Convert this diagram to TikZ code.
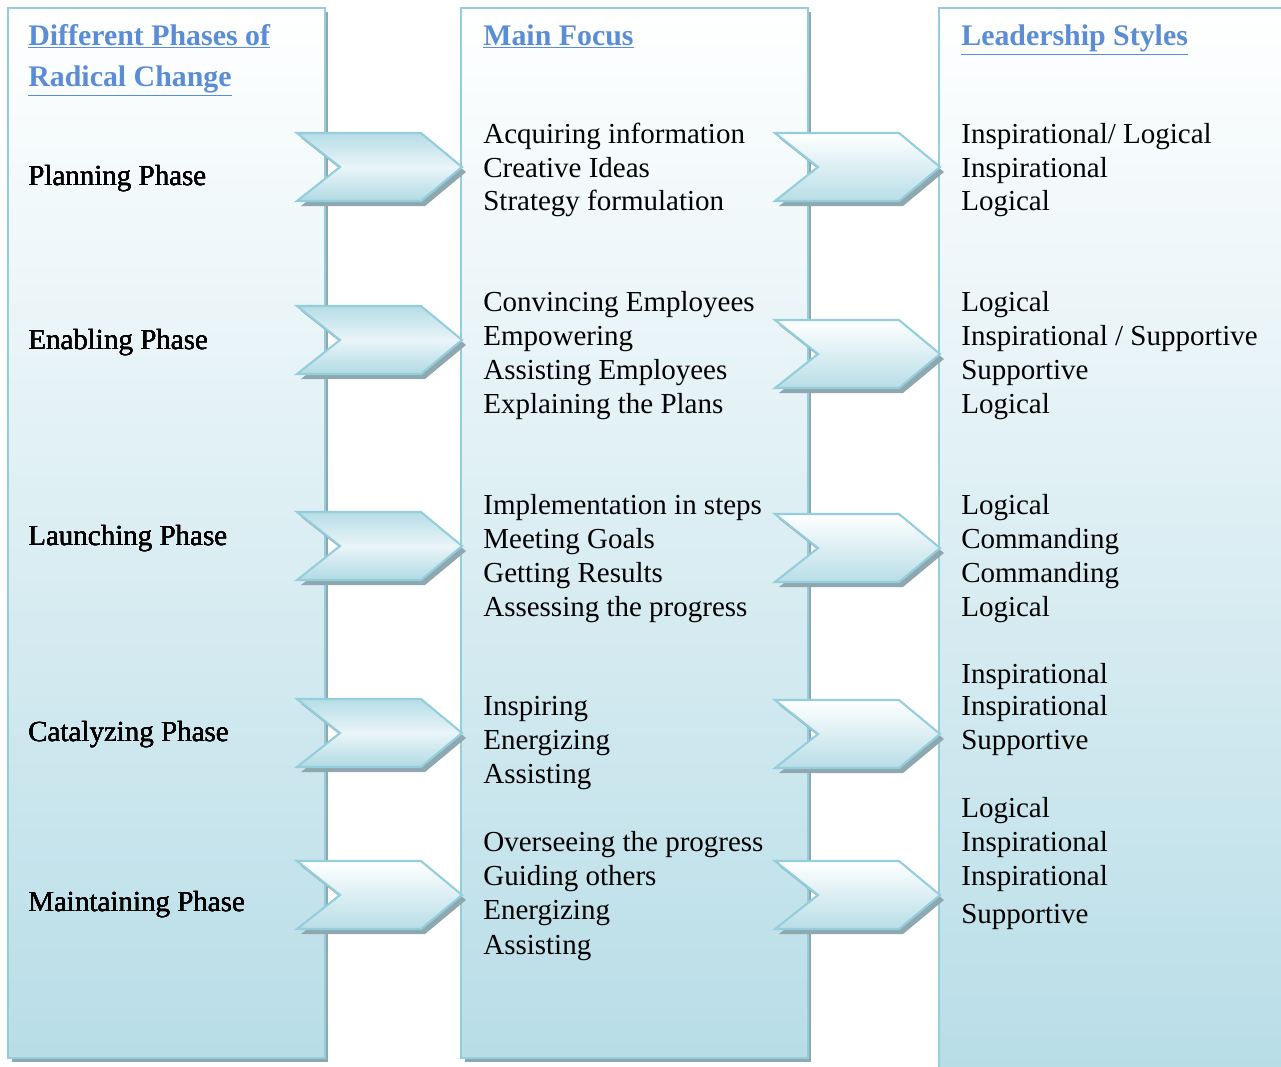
\documentclass[tikz,border=0pt]{standalone}
\usepackage{fontspec}
\setmainfont{Liberation Serif}
\definecolor{colline}{HTML}{94CEDC}
\definecolor{colfill}{HTML}{B8DDE7}
\definecolor{colshade}{HTML}{8FA8B0}
\definecolor{colhead}{HTML}{5A8DD5}
\tikzset{
  column/.style = {draw=colline, line width=1.6pt, top color=white, bottom color=colfill},
  colshadow/.style = {fill=colshade},
  chevdark/.style = {draw=colline, line width=1.2pt, top color=colfill!95!colline, bottom color=colfill!80!colline, middle color=colfill!30!white},
  chevlight/.style = {draw=colline, line width=1.2pt, top color=white, bottom color=colfill},
  txt/.style = {anchor=base west, inner sep=0pt, font=\fontsize{16.5}{20}\selectfont},
  head/.style = {txt, font=\fontsize{17}{20}\selectfont\bfseries, text=colhead}
}
% chevron: left edge x, centre y, style
\newcommand\chev[3]{%
  \fill[colshadow, shift={(#1+4,#2+5)}] (0,-34) -- (124,-34) -- (165,0) -- (124,34) -- (0,34) -- (43,0) -- cycle;
  \path[#3, shift={(#1,#2)}] (0,-34) -- (124,-34) -- (165,0) -- (124,34) -- (0,34) -- (43,0) -- cycle;}
\begin{document}
\begin{tikzpicture}[x=0.02cm, y=-0.02cm]
  \useasboundingbox (0,0) rectangle (1281,1066);
  % columns
  \fill[colshadow] (12,12) rectangle (328,1062);
  \path[column] (8,8) rectangle (325,1058);
  \fill[colshadow] (465,12) rectangle (811,1062);
  \path[column] (461,8) rectangle (808,1058);
  \path[column] (939,8) rectangle (1295,1075);
  % headers
  \node[head] (hd1) at (28,45) {\underline{Different Phases of}};
  \node[head] (hd1b) at (28,86) {\underline{Radical Change}};
  \node[head] (hd2) at (483,45) {\underline{Main Focus}};
  \node[head] (hd3) at (961,45) {\underline{Leadership Styles}};
  % chevrons
  \chev{297}{167}{chevdark}
  \chev{297}{340}{chevdark}
  \chev{297}{546}{chevdark}
  \chev{297}{733}{chevdark}
  \chev{297}{895}{chevlight}
  \foreach \y in {167,354,548,734,895}
    \chev{775}{\y}{chevlight}
  % phases
  \foreach \y/\t [count=\i] in {176/Planning Phase, 340/Enabling Phase,
      536/Launching Phase, 732/Catalyzing Phase, 902/Maintaining Phase}
    \node[txt] (phase\i) at (28,\y+9) {\t};
  % main focus
  \foreach \y/\t [count=\i] in {134/Acquiring information, 168/Creative Ideas,
      201/Strategy formulation, 302/Convincing Employees, 336/Empowering,
      370/Assisting Employees, 404/Explaining the Plans,
      505/Implementation in steps, 539/Meeting Goals, 573/Getting Results,
      607/Assessing the progress, 706/Inspiring, 740/Energizing, 774/Assisting,
      842/Overseeing the progress, 876/Guiding others, 910/Energizing, 945/Assisting}
    \node[txt] (focus\i) at (483,\y+9) {\t};
  % leadership styles
  \foreach \y/\t [count=\i] in {134/{Inspirational/ Logical}, 168/Inspirational,
      201/Logical, 302/Logical, 336/{Inspirational / Supportive}, 370/Supportive,
      404/Logical, 505/Logical, 539/Commanding, 573/Commanding, 607/Logical,
      674/Inspirational, 706/Inspirational, 740/Supportive, 808/Logical,
      842/Inspirational, 876/Inspirational, 914/Supportive}
    \node[txt] (style\i) at (961,\y+9) {\t};
\end{tikzpicture}
\end{document}
